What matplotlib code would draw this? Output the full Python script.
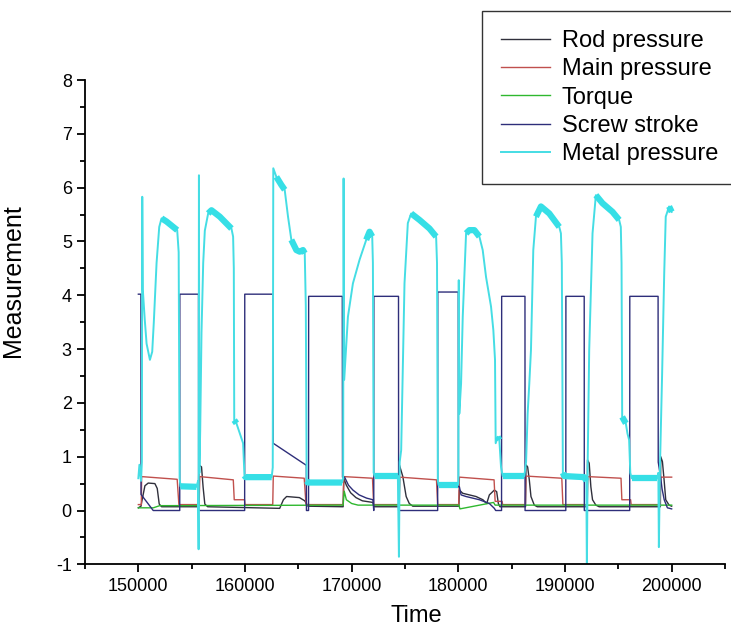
import numpy as np
import matplotlib.pyplot as plt
from matplotlib.ticker import MultipleLocator

plt.rcParams['font.family'] = ['Liberation Sans', 'DejaVu Sans']
plt.rcParams['axes.unicode_minus'] = False

# values (time, value breakpoints)
rod_t = [150000, 150250, 150307, 150616, 150925, 151552, 151771, 151958, 152180,
         155620, 155670, 155923, 156073, 156232, 156500,
         163250, 163600, 163900, 165100, 165600, 165900,
         169200, 169260, 169500, 169900, 170400, 171000, 171990, 172100,
         174450, 174484, 174796, 175108, 175400, 175732,
         180050, 180100, 180412, 181660, 182300, 182658, 182908, 183376, 183594, 183750, 183900,
         186300, 186340, 186496, 186652, 186808, 187120, 187400,
         192080, 192112, 192268, 192424, 192580, 192892, 193200,
         198940, 198976, 199132, 199288, 199444, 199756, 200000]
rod_v = [0.05, 0.08, 0.15, 0.46, 0.51, 0.50, 0.41, 0.12, 0.07,
         0.07, 0.85, 0.81, 0.43, 0.12, 0.07,
         0.04, 0.20, 0.26, 0.24, 0.18, 0.08,
         0.07, 0.60, 0.47, 0.33, 0.24, 0.18, 0.15, 0.07,
         0.07, 0.84, 0.63, 0.26, 0.13, 0.08,
         0.08, 0.38, 0.32, 0.26, 0.20, 0.13, 0.29, 0.38, 0.35, 0.13, 0.07,
         0.07, 0.85, 0.81, 0.57, 0.26, 0.10, 0.07,
         0.07, 0.94, 0.88, 0.44, 0.20, 0.10, 0.07,
         0.07, 1.00, 0.91, 0.57, 0.20, 0.10, 0.08]

main_t = [150000, 150280, 150307, 153640, 153800, 155700, 155760, 158900, 158990,
          159950, 160000, 162600, 162650, 165550, 165720, 169200, 169260, 171950,
          172060, 174460, 174520, 177950, 178060, 180030, 180100, 183350, 183450,
          184100, 184150, 186280, 186340, 189700, 189800, 192080, 192140, 195250,
          195330, 196150, 196200, 198900, 198960, 200000]
main_v = [0.11, 0.11, 0.63, 0.58, 0.11, 0.11, 0.63, 0.57, 0.20,
          0.20, 0.11, 0.11, 0.64, 0.60, 0.11, 0.11, 0.63, 0.60,
          0.11, 0.11, 0.62, 0.57, 0.11, 0.11, 0.62, 0.57, 0.17,
          0.17, 0.11, 0.11, 0.64, 0.60, 0.11, 0.11, 0.63, 0.60,
          0.20, 0.20, 0.11, 0.11, 0.62, 0.62]

torque_t = [150000, 151400, 152000, 169200, 169300, 169500, 170000, 170600,
            180050, 180150, 183300, 183450, 200000]
torque_v = [0.05, 0.05, 0.09, 0.10, 0.36, 0.20, 0.13, 0.10,
            0.10, 0.03, 0.15, 0.10, 0.10]

screw_t = [150000, 150240, 150250, 151393, 153880, 153892, 155640, 155650,
           159966, 159976, 162628, 162640, 165748, 165760, 165956, 165966,
           169120, 169140, 169336, 169700, 170116, 170700, 171400, 171990, 172070, 172082,
           174390, 174400, 178060, 178072, 179990, 180010, 180100, 180256, 180724,
           181972, 182908, 183376, 183500, 184050, 184062, 186246, 186256,
           190074, 190084, 191800, 191810, 196064, 196074, 198726, 198740,
           198976, 199100, 199300, 199600, 200000]
screw_v = [4.02, 4.02, 0.30, 0.00, 0.00, 4.02, 4.02, 0.00,
           0.00, 4.02, 4.02, 1.25, 0.84, 0.00, 0.00, 3.98,
           3.98, 0.62, 0.62, 0.47, 0.38, 0.29, 0.23, 0.20, 0.00, 3.98,
           3.98, 0.00, 0.00, 4.06, 4.06, 0.44, 0.44, 0.29, 0.26,
           0.20, 0.13, 0.04, 0.00, 0.00, 3.98, 3.98, 0.00,
           0.00, 3.98, 3.98, 0.00, 0.00, 3.98, 3.98, 0.90,
           0.60, 0.40, 0.20, 0.05, 0.03]

metal_t = [150000, 150100, 150250, 150330, 150366, 150420, 150600, 150772, 151084,
           151300, 151450, 151708, 151958, 152176, 152644, 153268, 153642, 153780,
           153870, 153950, 155450, 155600, 155650, 155680, 155720, 155800, 155920,
           156080, 156232, 156544, 156856, 157636, 158728, 158884, 158950, 158990,
           159196, 159820, 159950, 160050, 162500, 162600, 162650, 162940, 163408,
           163720, 164032, 164344, 164812, 165124, 165436, 165600, 165700, 165780,
           165900, 169100, 169200, 169242, 169300, 169648, 170116, 170740, 171364,
           171676, 171926, 171990, 172060, 172150, 174330, 174430, 174500, 174640,
           174952, 175264, 175576, 176356, 177292, 177916, 178000, 178080, 178150,
           179944, 180000, 180040, 180090, 180256, 180412, 180724, 181036, 181504,
           181972, 182284, 182596, 183064, 183282, 183438, 183500, 183688, 183844,
           184000, 184156, 186184, 186350, 186496, 186652, 186808, 187026, 187276,
           187744, 188524, 189460, 189616, 189700, 189800, 189928, 191800, 192000,
           192050, 192120, 192268, 192580, 192892, 193516, 194452, 195076, 195232,
           195300, 195360, 195700, 195856, 196012, 196120, 196250, 198664, 198750,
           198800, 198900, 199100, 199300, 199444, 199756, 200000]
metal_v = [0.60, 0.85, 0.55, 0.90, 5.83, 4.10, 3.55, 3.10, 2.80,
           2.95, 3.50, 4.60, 5.27, 5.43, 5.37, 5.27, 5.21, 4.80,
           0.60, 0.45, 0.44, 0.55, -0.72, 6.23, 0.70, 1.50, 3.30,
           4.60, 5.20, 5.52, 5.58, 5.46, 5.24, 5.09, 4.50, 1.68,
           1.62, 1.25, 0.65, 0.62, 0.62, 0.80, 6.36, 6.20, 6.05,
           5.96, 5.46, 5.03, 4.84, 4.81, 4.84, 4.78, 3.80, 0.55,
           0.52, 0.52, 0.60, 6.17, 2.43, 3.60, 4.22, 4.66, 5.03,
           5.18, 5.09, 4.60, 0.70, 0.64, 0.64, -0.86, 0.90, 1.12,
           4.22, 5.34, 5.52, 5.40, 5.24, 5.09, 4.60, 0.55, 0.47,
           0.47, 0.50, 4.28, 1.80, 2.36, 3.60, 5.15, 5.21, 5.21,
           5.09, 4.84, 4.34, 3.79, 3.35, 2.80, 1.25, 1.37, 1.31,
           0.81, 0.64, 0.64, 0.90, 1.80, 2.36, 2.98, 4.84, 5.46,
           5.65, 5.52, 5.27, 5.15, 4.60, 0.70, 0.64, 0.62, 0.55,
           -1.10, 0.80, 2.98, 5.15, 5.86, 5.71, 5.55, 5.40, 5.27,
           4.60, 1.74, 1.62, 1.43, 1.31, 0.70, 0.60, 0.60, 0.70,
           -0.68, 0.80, 2.50, 4.40, 5.46, 5.65, 5.55]

fig = plt.figure(figsize=(7.31, 6.28), dpi=100)
ax = fig.add_axes([0.1163, 0.1014, 0.8755, 0.7712])

ax.plot(rod_t, rod_v, color='#30303c', lw=1.0, label='Rod pressure')
ax.plot(main_t, main_v, color='#c0504d', lw=1.0, label='Main pressure')
ax.plot(torque_t, torque_v, color='#2fb82f', lw=1.0, label='Torque')
ax.plot(screw_t, screw_v, color='#2e2e7a', lw=1.0, label='Screw stroke')
ax.plot(metal_t, metal_v, color='#45dde4', lw=1.4, label='Metal pressure')

# the noisy plateaus of the metal pressure look like a thick band:
# redraw runs of shallow segments with a wide line
mt = np.array(metal_t, dtype=float)
mv = np.array(metal_v, dtype=float)
dx_px = np.diff(mt) / 60000 * 640
dy_px = np.diff(mv) / 9 * 484
flat = np.abs(dy_px) < 2.5 * dx_px
i = 0
while i < len(flat):
    if flat[i]:
        j = i
        while j + 1 < len(flat) and flat[j + 1]:
            j += 1
        ax.plot(mt[i:j + 2], mv[i:j + 2], color='#36dfe6', lw=4.5,
                solid_capstyle='butt', solid_joinstyle='round')
        i = j + 1
    else:
        i += 1

ax.set_xlim(145000, 205000)
ax.set_ylim(-1, 8)
ax.xaxis.set_major_locator(MultipleLocator(10000))
ax.xaxis.set_minor_locator(MultipleLocator(5000))
ax.yaxis.set_major_locator(MultipleLocator(1))
ax.yaxis.set_minor_locator(MultipleLocator(0.5))
ax.ticklabel_format(useOffset=False, style='plain')

for s in ['top', 'right']:
    ax.spines[s].set_visible(False)
for s in ['left', 'bottom']:
    ax.spines[s].set_linewidth(1.3)
ax.tick_params(which='major', direction='out', length=6, width=1.3, labelsize=13)
ax.tick_params(which='minor', direction='out', length=3.5, width=1.3)

ax.set_xlabel('Time', fontsize=17)
ax.xaxis.set_label_coords(0.517, -0.085)
ax.set_ylabel('Measurement', fontsize=18)
ax.yaxis.set_label_coords(-0.094, 0.585)

leg = ax.legend(loc='upper left', bbox_to_anchor=(481.7 / 731, 1 - 11 / 628),
                bbox_transform=fig.transFigure, fontsize=17, frameon=True,
                fancybox=False, edgecolor='#333333', framealpha=1,
                borderpad=0.8, handlelength=2.1, handletextpad=0.5,
                labelspacing=0.27, borderaxespad=0)
leg.get_frame().set_linewidth(1.0)

fig.savefig('out.png', dpi=100)
